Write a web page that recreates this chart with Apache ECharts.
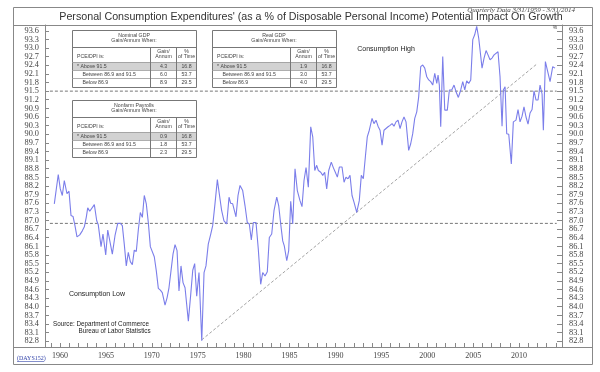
<!DOCTYPE html>
<html>
<head>
<meta charset="utf-8">
<script src="https://cdn.jsdelivr.net/npm/echarts@6/dist/echarts.min.js"></script>
<style>html,body{margin:0;padding:0;background:#fff;}#c{width:600px;height:372px;}</style>
</head>
<body>
<div id="c"></div>
<script>
// ---- data ----
var years = [1959.38,1959.56,1959.81,1960.03,1960.25,1960.47,1960.76,1960.98,1961.20,1961.42,1961.63,1961.85,1962.15,1962.43,1962.65,1962.86,1963.02,1963.24,1963.45,1963.74,1964.00,1964.17,1964.47,1964.68,1964.98,1965.20,1965.41,1965.70,1965.99,1966.29,1966.57,1966.79,1967.00,1967.22,1967.44,1967.66,1967.88,1968.09,1968.31,1968.53,1968.75,1968.97,1969.18,1969.40,1969.62,1969.84,1970.05,1970.27,1970.49,1970.71,1970.93,1971.14,1971.44,1971.66,1971.87,1972.09,1972.31,1972.53,1972.75,1972.96,1973.18,1973.40,1973.62,1973.98,1974.24,1974.46,1974.67,1974.89,1975.14,1975.44,1975.69,1975.90,1976.15,1976.42,1976.63,1976.88,1977.14,1977.35,1977.61,1977.86,1978.16,1978.41,1978.59,1978.81,1978.95,1979.17,1979.39,1979.61,1979.90,1980.15,1980.40,1980.62,1980.84,1981.06,1981.35,1981.60,1981.86,1982.08,1982.33,1982.58,1982.80,1983.06,1983.31,1983.61,1983.82,1984.04,1984.26,1984.43,1984.70,1984.91,1985.13,1985.35,1985.60,1985.85,1986.14,1986.36,1986.58,1986.80,1987.05,1987.31,1987.53,1987.75,1987.96,1988.14,1988.40,1988.62,1988.83,1989.05,1989.27,1989.55,1989.77,1989.99,1990.21,1990.43,1990.72,1990.94,1991.15,1991.37,1991.59,1991.81,1992.03,1992.32,1992.60,1992.82,1993.04,1993.26,1993.47,1993.69,1993.99,1994.20,1994.42,1994.64,1994.86,1995.08,1995.29,1995.51,1995.73,1995.95,1996.17,1996.38,1996.60,1996.82,1997.04,1997.25,1997.47,1997.69,1997.98,1998.20,1998.42,1998.64,1998.86,1999.07,1999.29,1999.51,1999.73,1999.95,2000.16,2000.38,2000.60,2000.82,2001.04,2001.18,2001.32,2001.47,2001.69,2001.91,2002.19,2002.41,2002.67,2002.92,2003.14,2003.39,2003.65,2003.87,2004.09,2004.30,2004.52,2004.74,2004.96,2005.17,2005.39,2005.61,2005.75,2005.97,2006.19,2006.41,2006.62,2006.84,2007.06,2007.28,2007.49,2007.71,2007.93,2008.15,2008.29,2008.48,2008.66,2008.88,2009.16,2009.38,2009.67,2009.89,2010.11,2010.33,2010.54,2010.76,2010.98,2011.20,2011.42,2011.63,2011.85,2012.07,2012.29,2012.51,2012.65,2012.87,2013.08,2013.38,2013.67,2013.92];
var pce = [87.58,87.55,88.60,88.10,87.87,88.39,87.93,88.02,87.17,87.14,86.82,86.43,86.50,86.64,86.78,87.11,87.44,87.32,87.32,87.55,86.99,86.85,86.09,86.53,85.80,86.67,86.70,85.83,86.47,86.90,86.90,86.82,86.18,85.42,85.89,85.57,85.46,85.97,85.92,86.67,87.28,87.11,87.87,87.58,86.93,86.09,86.09,85.74,85.25,84.64,84.58,84.49,84.06,84.31,84.66,85.25,85.83,86.16,85.95,84.55,85.42,84.84,84.66,83.50,84.43,85.27,85.50,84.37,85.19,82.82,85.19,85.42,86.18,86.53,86.82,87.58,88.42,87.93,87.34,86.99,86.88,87.81,87.60,87.58,87.55,87.13,87.87,88.22,88.04,87.52,86.93,86.88,86.32,86.93,86.93,86.00,84.78,85.19,85.07,85.22,86.41,86.53,87.34,87.81,87.52,86.88,86.29,86.12,85.60,85.95,87.67,86.88,88.80,88.04,87.69,87.48,88.39,88.84,88.16,90.26,89.91,88.74,88.92,88.74,88.68,88.57,88.68,88.10,88.74,89.03,88.84,88.68,88.51,88.86,88.86,88.33,88.51,88.45,88.57,87.87,87.63,87.28,87.69,88.57,88.45,89.21,89.91,90.14,90.55,90.37,90.49,90.28,90.14,89.62,90.14,90.20,90.26,90.31,90.37,90.28,90.43,90.49,90.20,90.43,90.60,90.43,89.44,89.67,90.02,90.55,90.78,91.30,92.35,92.41,92.30,92.00,91.89,91.83,91.71,92.12,91.77,92.06,91.71,90.26,92.70,90.84,90.84,91.54,91.54,91.71,91.48,91.28,91.54,91.83,91.54,91.86,91.77,91.89,93.29,93.46,93.75,93.34,92.94,92.30,92.65,92.91,92.76,92.59,92.65,92.76,92.82,92.87,92.00,90.28,91.54,91.65,90.02,90.00,88.97,90.43,90.49,90.86,90.43,90.63,90.95,90.60,90.35,90.74,90.86,91.51,91.19,91.19,91.71,91.40,90.14,92.53,92.24,91.83,92.35,92.30];
var thresholds = [91.5, 86.9];
var thresholdSpan = [1958.9, 2014.1];
var trendLine = [[1975.44, 82.85], [2011.93, 92.44]];
var yearTicks = []; for (var yr = 1959; yr <= 2014; yr++) yearTicks.push(yr);
var yearLabels = [1960,1965,1970,1975,1980,1985,1990,1995,2000,2005,2010];
var yTickLabels = []; for (var k = 0; k <= 36; k++) yTickLabels.push(Math.round((82.8 + 0.3 * k) * 10) / 10);

var titleText = "Personal Consumption Expenditures' (as a % of Disposable Personal Income) Potential Impact On Growth";
var subTitleText = "Quarterly Data 3/31/1959 - 3/31/2014";
var tableTitles = [["Nominal GDP","Gain/Annum When:"],["Real GDP","Gain/Annum When:"],["Nonfarm Payrolls","Gain/Annum When:"]];
var rowLabels = ["* Above 91.5","Between 86.9 and 91.5","Below 86.9"];
var gainValues = [["4.3","6.0","8.9"],["1.9","3.0","4.0"],["0.9","1.8","2.3"]];
var timeValues = ["16.8","53.7","29.5"];

// ---- build ----
var chart = echarts.init(document.getElementById('c'), null, {renderer:'canvas'});
var series = [{
  type:'line', data: years.map(function(y,i){return [y, pce[i]];}),
  showSymbol:false, symbol:'none', lineStyle:{color:'#7b7eea', width:1.1}, z:3, animation:false
}];
thresholds.forEach(function(t){
  series.push({type:'line', data:[[thresholdSpan[0], t],[thresholdSpan[1], t]], symbol:'none',
    lineStyle:{color:'#777', width:1, type:[3,2]}, z:2, animation:false});
});
series.push({type:'line', data:trendLine, symbol:'none', lineStyle:{color:'#999', width:0.9, type:[3,2]}, z:2, animation:false});

var SANS = 'Liberation Sans', SERIF = 'Liberation Serif';
var g = [];
function line(x1,y1,x2,y2,c,w){ g.push({type:'line', shape:{x1:x1,y1:y1,x2:x2,y2:y2}, style:{stroke:c||'#888', lineWidth:w||1}, silent:true, z:10}); }
function txt(x,y,s,opt){ opt=opt||{}; g.push({type:'text', x:x, y:y, style:{text:s, fill:opt.color||'#333', font:(opt.style||'')+' '+(opt.size||6)+'px "'+(opt.family||SANS)+'"', align:opt.align||'left', verticalAlign:'middle'}, silent:true, z:11}); }

// frame
g.push({type:'rect', shape:{x:13.5,y:7.5,width:579,height:357}, style:{fill:'none', stroke:'#888', lineWidth:1}, z:10, silent:true});
line(13,25.5,593,25.5,'#888');
line(13,347.5,593,347.5,'#888');
txt(311,17,titleText,{size:10.7,align:'center',color:'#333'});
txt(575,10.5,subTitleText,{size:7,align:'right',style:'italic',family:SERIF,color:'#444'});
txt(555,28,'%',{size:5,align:'center',color:'#444'});
txt(386,49,'Consumption High',{size:7,align:'center',color:'#222'});
txt(69,294.5,'Consumption Low',{size:7,color:'#222'});
txt(53,324,'Source: Department of Commerce',{size:6.3,color:'#222'});
txt(78.5,331.5,'Bureau of Labor Statistics',{size:6.3,color:'#222'});
txt(17,358,'(DAYS152)',{size:6,family:SERIF,color:'#3344aa'});
line(17,361.5,44,361.5,'#3344aa',0.6);

function table(x0,y0,ti){
  var W=124,H=57;
  g.push({type:'rect', shape:{x:x0+0.5,y:y0+32,width:W,height:8}, style:{fill:'#d2d2d2'}, z:9, silent:true});
  g.push({type:'rect', shape:{x:x0+0.5,y:y0+0.5,width:W,height:H}, style:{fill:'none', stroke:'#777', lineWidth:1}, z:10, silent:true});
  line(x0,y0+17.5,x0+W,y0+17.5,'#777');
  [32,40,48].forEach(function(d){ line(x0,y0+d+0.5,x0+W,y0+d+0.5,'#999',0.8); });
  line(x0+78.5,y0+17,x0+78.5,y0+H,'#777'); line(x0+104.5,y0+17,x0+104.5,y0+H,'#777');
  txt(x0+62,y0+6,tableTitles[ti][0],{size:5.2,align:'center',color:'#444'});
  txt(x0+62,y0+11,tableTitles[ti][1],{size:5.2,align:'center',color:'#444'});
  txt(x0+5,y0+27,'PCE/DPI is:',{size:5.2,color:'#444'});
  txt(x0+91.5,y0+21.5,'Gain/',{size:5.2,align:'center',color:'#444'});
  txt(x0+91.5,y0+27,'Annum',{size:5.2,align:'center',color:'#444'});
  txt(x0+114.5,y0+21.5,'%',{size:5.2,align:'center',color:'#444'});
  txt(x0+114.5,y0+27,'of Time',{size:5.2,align:'center',color:'#444'});
  for (var r=0;r<3;r++){
    var yy=y0+36.3+r*8.3;
    txt(x0+(r===0?5:10.5),yy,rowLabels[r],{size:5.2,color:'#444'});
    txt(x0+91.5,yy,gainValues[ti][r],{size:5.2,align:'center',color:'#444'});
    txt(x0+114.5,yy,timeValues[r],{size:5.2,align:'center',color:'#444'});
  }
}
table(72,30,0); table(212,30,1); table(72,100,2);

var yLabelCommon = {customValues:yTickLabels, showMinLabel:true, showMaxLabel:true, hideOverlap:false,
  formatter:function(v){return Number(v).toFixed(1);}, fontFamily:SERIF, fontSize:8.3, lineHeight:7, color:'#444'};
chart.setOption({
  animation:false,
  grid:{left:45, right:38, top:25, bottom:25, containLabel:false},
  xAxis:{type:'value', min:1958.366, max:2014.68, splitLine:{show:false},
    axisLine:{show:true, lineStyle:{color:'#888', width:1}},
    axisTick:{show:true, inside:true, length:4, customValues:yearTicks, lineStyle:{color:'#888'}},
    axisLabel:{customValues:yearLabels, formatter:function(v){return String(Math.round(v));}, fontFamily:SERIF, fontSize:8, color:'#444', margin:5}},
  yAxis:[
    {type:'value', position:'left', min:82.6, max:93.8, splitLine:{show:false},
     axisLine:{show:true, lineStyle:{color:'#888'}},
     axisTick:{show:true, inside:true, length:4, customValues:yTickLabels, lineStyle:{color:'#888'}},
     axisLabel:Object.assign({margin:6}, yLabelCommon)},
    {type:'value', position:'right', min:82.6, max:93.8, splitLine:{show:false},
     axisLine:{show:true, lineStyle:{color:'#888'}},
     axisTick:{show:true, inside:true, length:5, customValues:yTickLabels, lineStyle:{color:'#888'}},
     axisLabel:Object.assign({margin:7}, yLabelCommon)}
  ],
  series:series,
  graphic:{elements:g}
});
</script>
</body>
</html>
